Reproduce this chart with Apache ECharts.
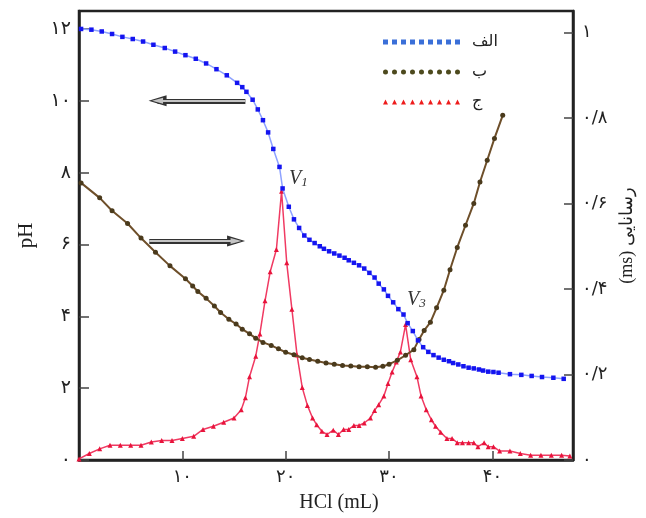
<!DOCTYPE html>
<html>
<head>
<meta charset="utf-8">
<script src="https://cdn.jsdelivr.net/npm/echarts@6/dist/echarts.min.js"></script>
<style>
html, body { margin: 0; padding: 0; background: #fff; }
#container { width: 646px; height: 518px; }
</style>
</head>
<body>
<div id="container"></div>
<script>
// الف: pH curve (left axis)
const blueX = [0.2, 1.2, 2.2, 3.2, 4.2, 5.2, 6.2, 7.2, 8.3, 9.3, 10.3, 11.3, 12.3, 13.3, 14.3, 15.3, 15.8, 16.2, 16.8, 17.3,
  17.8, 18.3, 18.8, 19.4, 19.7, 20.3, 20.8, 21.3, 21.8, 22.3, 22.8, 23.3, 23.7, 24.2, 24.7, 25.2, 25.7, 26.1, 26.6, 27.1,
  27.6, 28.1, 28.6, 29.0, 29.5, 29.9, 30.4, 30.9, 31.4, 31.8, 32.3, 32.8, 33.3, 33.8, 34.3, 34.8, 35.3, 35.8, 36.2, 36.7,
  37.2, 37.7, 38.2, 38.7, 39.1, 39.6, 40.1, 40.6, 41.7, 42.8, 43.8, 44.8, 45.9, 46.9];
const bluePH = [12.0, 11.98, 11.93, 11.86, 11.78, 11.72, 11.65, 11.56, 11.47, 11.37, 11.27, 11.17, 11.04, 10.88, 10.71, 10.50, 10.38, 10.25, 10.03, 9.76,
  9.46, 9.12, 8.66, 8.16, 7.56, 7.05, 6.70, 6.46, 6.25, 6.13, 6.04, 5.95, 5.88, 5.81, 5.75, 5.69, 5.63, 5.56, 5.49, 5.42,
  5.33, 5.21, 5.08, 4.91, 4.75, 4.57, 4.39, 4.20, 4.05, 3.81, 3.59, 3.33, 3.14, 3.01, 2.92, 2.85, 2.79, 2.75, 2.70, 2.66,
  2.61, 2.57, 2.55, 2.52, 2.49, 2.46, 2.45, 2.43, 2.39, 2.37, 2.34, 2.31, 2.29, 2.26];

// ب: conductance (right axis)
const brownX = [0.2, 2.0, 3.2, 4.7, 6.0, 7.4, 8.8, 10.3, 11.0, 11.5, 12.3, 13.1, 13.7, 14.5, 15.2, 15.8, 16.5, 17.1,
  17.8, 18.6, 19.3, 20.0, 20.8, 21.6, 22.3, 23.1, 23.9, 24.7, 25.5, 26.3, 27.1, 27.9, 28.7, 29.4, 30.0, 30.8, 31.6, 32.4,
  32.9, 33.4, 34.0, 34.6, 35.3, 35.9, 36.6, 37.4, 38.2, 38.8, 39.5, 40.2, 41.0];
const brownCond = [0.648, 0.613, 0.583, 0.553, 0.519, 0.486, 0.454, 0.424, 0.407, 0.394, 0.378, 0.360, 0.345, 0.329, 0.318, 0.306, 0.295, 0.285,
  0.275, 0.268, 0.260, 0.252, 0.246, 0.239, 0.235, 0.231, 0.227, 0.224, 0.221, 0.220, 0.218, 0.218, 0.217, 0.219, 0.224, 0.233, 0.245, 0.258,
  0.282, 0.303, 0.322, 0.356, 0.397, 0.445, 0.497, 0.549, 0.600, 0.650, 0.701, 0.752, 0.806];

// ج: derivative curve (drawn on the pH scale)
const redX = [0, 1, 2, 3, 4, 5, 6, 7, 8, 9, 10, 11.1, 12, 13, 14, 15, 15.7, 16.1, 16.5, 17.1,
  17.5, 18, 18.5, 19.1, 19.6, 20.1, 20.6, 21.1, 21.6, 22.1, 22.6, 23, 23.5, 24, 24.6, 25.1, 25.6, 26.1, 26.6, 27.1,
  27.6, 28.2, 28.6, 29, 29.5, 29.9, 30.3, 30.7, 31.1, 31.6, 32.1, 32.7, 33.1, 33.6, 34.1, 34.5, 35, 35.6, 36.1, 36.6,
  37.1, 37.7, 38.2, 38.6, 39.2, 39.6, 40.1, 40.7, 41.7, 42.7, 43.7, 44.7, 45.7, 46.7, 47.5];
const redVal = [0.03, 0.18, 0.31, 0.41, 0.41, 0.41, 0.41, 0.50, 0.54, 0.54, 0.60, 0.66, 0.85, 0.94, 1.05, 1.17, 1.40, 1.73, 2.32, 2.89,
  3.51, 4.43, 5.24, 5.86, 7.48, 5.49, 4.20, 2.92, 2.02, 1.52, 1.17, 0.98, 0.80, 0.71, 0.83, 0.71, 0.85, 0.85, 0.96, 0.96,
  1.03, 1.17, 1.38, 1.54, 1.78, 2.13, 2.45, 2.73, 3.01, 3.77, 2.79, 2.32, 1.78, 1.40, 1.12, 0.94, 0.77, 0.60, 0.60, 0.48,
  0.48, 0.48, 0.48, 0.37, 0.48, 0.37, 0.37, 0.25, 0.25, 0.18, 0.13, 0.13, 0.13, 0.13, 0.11];

const seriesNames = ['الف', 'ب', 'ج'];

const xTicks = [10, 20, 30, 40];
const xTickLabels = ['۱۰', '۲۰', '۳۰', '۴۰'];
const phTicks = [0, 2, 4, 6, 8, 10, 12];
const phTickLabels = ['۰', '۲', '۴', '۶', '۸', '۱۰', '۱۲'];
const condTicks = [0, 0.2, 0.4, 0.6, 0.8, 1];
const condTickLabels = ['۰', '۰/۲', '۰/۴', '۰/۶', '۰/۸', '۱'];

// annotations, in data units (pH scale)
const peakLabels = [{ name: '1', coord: [19.6, 7.48], dist: 7, dy: -13 }, { name: '3', coord: [31.6, 3.77], dist: 1, dy: -25 }];
const arrows = [[[16.1, 10], [7.6, 10]], [[6.8, 6.1], [15.2, 6.1]]];

const faFont = "'DejaVu Sans'";
const serif = "'Liberation Serif', 'DejaVu Serif'";

function zip(xs, ys) { return xs.map((x, i) => [x, ys[i]]); }

// a row of small marks for the legend icons
function iconRow(shape) {
  let d = 'path://';
  for (let i = 0; i < 9; i++) {
    const x = i * 9;
    if (shape === 'rect') d += `M${x},0h5v5h-5z `;
    else if (shape === 'circle') d += `M${x},2.5a2.5,2.5 0 1,0 5,0a2.5,2.5 0 1,0 -5,0z `;
    else d += `M${x + 2.5},0L${x + 5},5L${x},5z `;
  }
  return d;
}

// double-line arrow = wide dark line with a narrow light one on top
function arrowLines(width, color, size, z) {
  return {
    silent: true,
    z: z,
    symbol: ['none', 'triangle'],
    symbolSize: size,
    label: { show: false },
    lineStyle: { color: color, width: width, type: 'solid', opacity: 1 },
    data: arrows.map(a => [{ coord: a[0] }, { coord: a[1] }])
  };
}

const dom = document.getElementById('container');
const myChart = echarts.init(dom);
const option = {
  animation: false,
  grid: { left: 79, right: 73, top: 11, bottom: 54, show: true, borderColor: '#222', borderWidth: 2.5 },
  legend: {
    orient: 'vertical',
    left: 378,
    top: 28,
    itemWidth: 79,
    itemHeight: 5,
    itemGap: 12,
    textStyle: { fontFamily: faFont, fontSize: 16, color: '#222', lineHeight: 18, padding: [0, 0, 0, 6] },
    data: [
      { name: seriesNames[0], icon: iconRow('rect'), itemStyle: { color: '#3a6fd8' } },
      { name: seriesNames[1], icon: iconRow('circle'), itemStyle: { color: '#4d4a1e' } },
      { name: seriesNames[2], icon: iconRow('tri'), itemStyle: { color: '#ee1c1c' } }
    ]
  },
  xAxis: {
    type: 'value',
    min: 0,
    max: 47.8,
    name: 'HCl (mL)',
    nameLocation: 'middle',
    nameGap: 33,
    nameTextStyle: { fontFamily: serif, fontSize: 20, color: '#222', padding: [0, 0, 0, 26] },
    axisLine: { show: true, lineStyle: { color: '#222', width: 2.5 } },
    axisTick: { show: true, inside: true, length: 9, customValues: xTicks, lineStyle: { color: '#444', width: 1.5 } },
    axisLabel: {
      customValues: xTicks,
      formatter: v => xTickLabels[xTicks.indexOf(v)] || '',
      fontFamily: faFont, fontSize: 18, color: '#222', margin: 8
    },
    splitLine: { show: false }
  },
  yAxis: [
    {
      type: 'value',
      position: 'left',
      min: 0,
      max: 12.5,
      name: 'pH',
      nameLocation: 'middle',
      nameRotate: 90,
      nameGap: 42,
      nameTextStyle: { fontFamily: serif, fontSize: 21, color: '#222' },
      axisLine: { show: true, lineStyle: { color: '#222', width: 2.5 } },
      axisTick: { show: true, inside: true, length: 10, customValues: phTicks, lineStyle: { color: '#444', width: 1.5 } },
      axisLabel: {
        customValues: phTicks,
        formatter: v => phTickLabels[phTicks.indexOf(v)] || '',
        fontFamily: faFont, fontSize: 19, color: '#222', margin: 8
      },
      splitLine: { show: false }
    },
    {
      type: 'value',
      position: 'right',
      min: 0,
      max: 1.05,
      name: '(ms) رسانایی',
      nameLocation: 'middle',
      nameRotate: 90,
      nameGap: 45,
      nameTextStyle: { fontFamily: serif, fontSize: 18, color: '#222' },
      axisLine: { show: true, lineStyle: { color: '#222', width: 2.5 } },
      axisTick: { show: true, inside: true, length: 9, customValues: condTicks, lineStyle: { color: '#444', width: 1.5 } },
      axisLabel: {
        customValues: condTicks,
        formatter: v => condTickLabels[condTicks.indexOf(v)] || '',
        fontFamily: faFont, fontSize: 18, color: '#222', margin: 9
      },
      splitLine: { show: false }
    }
  ],
  series: [
    {
      name: seriesNames[2],
      type: 'line',
      yAxisIndex: 0,
      z: 2,
      data: zip(redX, redVal),
      symbol: 'triangle',
      symbolSize: 5,
      itemStyle: { color: '#e8143c' },
      lineStyle: { color: '#f03a62', width: 1.5 },
      markLine: arrowLines(5, '#333333', [11, 18], 5),
      markPoint: {
        symbol: 'circle',
        symbolSize: 1,
        itemStyle: { color: 'rgba(0,0,0,0)' },
        label: {
          show: true,
          position: 'right',
          formatter: p => '{v|V}{s|' + p.name + '}',
          rich: {
            v: { fontFamily: serif, fontStyle: 'italic', fontSize: 20, color: '#333' },
            s: { fontFamily: serif, fontStyle: 'italic', fontSize: 13, color: '#333', verticalAlign: 'bottom', padding: [8, 0, 0, 0] }
          }
        },
        data: peakLabels.map(p => ({ name: p.name, coord: p.coord, label: { distance: p.dist, offset: [0, p.dy] } }))
      }
    },
    {
      name: seriesNames[1],
      type: 'line',
      yAxisIndex: 1,
      z: 3,
      data: zip(brownX, brownCond),
      symbol: 'circle',
      symbolSize: 5,
      itemStyle: { color: '#4a3a1c' },
      lineStyle: { color: '#6e4f2a', width: 2 }
    },
    {
      name: seriesNames[0],
      type: 'line',
      yAxisIndex: 0,
      z: 4,
      data: zip(blueX, bluePH),
      symbol: 'rect',
      symbolSize: 4.5,
      itemStyle: { color: '#1414f0' },
      lineStyle: { color: '#8ea2ff', width: 1.5 },
      markLine: arrowLines(2, '#c4c4c4', [6, 11], 6)
    }
  ]
};

myChart.setOption(option, true);
</script>
</body>
</html>
